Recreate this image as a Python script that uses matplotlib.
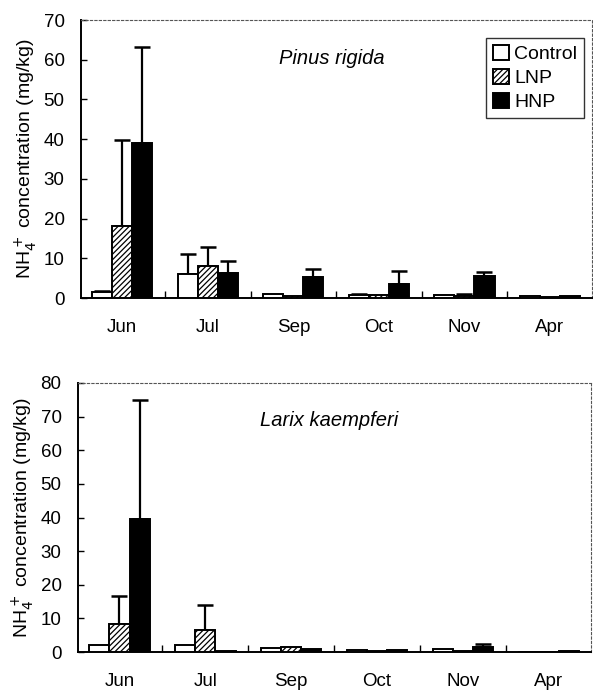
import numpy as np
import matplotlib
matplotlib.use("Agg")
import matplotlib.pyplot as plt

plt.rcParams['font.family'] = ['Liberation Sans', 'DejaVu Sans']
plt.rcParams['hatch.linewidth'] = 0.9

months = ["Jun", "Jul", "Sep", "Oct", "Nov", "Apr"]
treatments = ["Control", "LNP", "HNP"]

# Pinus rigida: means and upper error (SD)
pinus_control = [1.5, 6.1, 1.0, 0.9, 0.9, 0.4]
pinus_lnp = [18.1, 8.0, 0.6, 0.7, 0.5, 0.2]
pinus_hnp = [39.0, 6.3, 5.3, 3.5, 5.5, 0.4]
pinus_control_err = [0.3, 4.9, 0.0, 0.2, 0.0, 0.0]
pinus_lnp_err = [21.7, 4.8, 0.0, 0.0, 0.5, 0.0]
pinus_hnp_err = [24.2, 3.0, 2.1, 3.2, 1.1, 0.0]

# Larix kaempferi
larix_control = [2.0, 2.0, 1.2, 0.5, 0.8, 0.1]
larix_lnp = [8.2, 6.5, 1.5, 0.2, 0.3, 0.1]
larix_hnp = [39.6, 0.3, 1.0, 0.7, 1.5, 0.3]
larix_control_err = [0.0, 0.0, 0.0, 0.0, 0.0, 0.0]
larix_lnp_err = [8.5, 7.4, 0.0, 0.0, 0.0, 0.0]
larix_hnp_err = [35.4, 0.0, 0.0, 0.0, 1.0, 0.0]

styles = [
    dict(facecolor="white", hatch=None),
    dict(facecolor="white", hatch="//////"),
    dict(facecolor="black", hatch=None),
]


def draw_panel(ax, means, errs, title, ymax, legend=False):
    x = np.arange(len(months))
    w = 0.235
    offsets = [-w, 0, w]
    for i, (m, e) in enumerate(zip(means, errs)):
        e = np.array(e)
        ax.bar(x + offsets[i], m, w, edgecolor="black", linewidth=1.4,
               label=treatments[i], zorder=3, **styles[i])
        mask = e > 0
        ax.errorbar((x + offsets[i])[mask], np.array(m)[mask],
                    yerr=[np.zeros(mask.sum()), e[mask]], fmt="none",
                    ecolor="black", elinewidth=1.6, capsize=6, capthick=1.8,
                    zorder=2)
    ax.set_xlim(-0.48, 5.49)
    ax.set_ylim(0, ymax)
    ax.set_yticks(np.arange(0, ymax + 1, 10))
    ax.set_xticks(x)
    ax.set_xticklabels(months, fontsize=13.5)
    ax.set_xticks(x[:-1] + 0.5, minor=True)
    ax.tick_params(axis="x", which="major", length=0, pad=15)
    ax.tick_params(axis="x", which="minor", direction="in", length=5, width=1)
    ax.tick_params(axis="y", direction="in", length=4, width=1, labelsize=13.5, pad=12)
    ax.set_ylabel("NH$_4^+$ concentration (mg/kg)", fontsize=14, labelpad=3)
    for s in ["left", "bottom"]:
        ax.spines[s].set_linewidth(1.4)
    for s in ["top", "right"]:
        ax.spines[s].set_linestyle((0, (2, 2)))
        ax.spines[s].set_linewidth(0.8)
        ax.spines[s].set_color("#555555")
    ax.text(0.49, 0.86, title, transform=ax.transAxes, style="italic",
            fontsize=14.5, ha="center", va="center")
    if legend:
        leg = ax.legend(loc="upper right", bbox_to_anchor=(0.985, 0.935),
                        fontsize=14, frameon=True, fancybox=False,
                        edgecolor="black", handlelength=0.8, handleheight=0.8,
                        handletextpad=0.3, borderpad=0.35, labelspacing=0.3,
                        borderaxespad=0)
        leg.get_frame().set_linewidth(1.0)


fig = plt.figure(figsize=(5.93, 6.90), dpi=100)
ax1 = fig.add_axes([0.137, 0.568, 0.861, 0.403])
ax2 = fig.add_axes([0.132, 0.055, 0.864, 0.390])

draw_panel(ax1, [pinus_control, pinus_lnp, pinus_hnp],
           [pinus_control_err, pinus_lnp_err, pinus_hnp_err],
           "Pinus rigida", 70, legend=True)
draw_panel(ax2, [larix_control, larix_lnp, larix_hnp],
           [larix_control_err, larix_lnp_err, larix_hnp_err],
           "Larix kaempferi", 80)

fig.savefig("out.png", dpi=100)
